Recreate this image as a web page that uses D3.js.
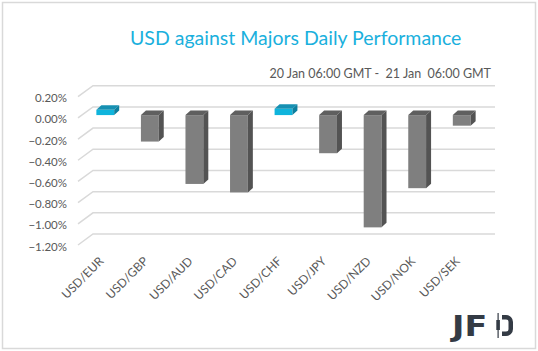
<!DOCTYPE html>
<html>
<head>
<meta charset="utf-8">
<script src="https://cdn.jsdelivr.net/npm/d3@7"></script>
<style>
  body { margin: 0; background: #fff; }
  svg { display: block; font-family: Lato, "Open Sans", sans-serif; }
</style>
</head>
<body>
<div id="chart"></div>
<script>
// data
const pairs = ['USD/EUR', 'USD/GBP', 'USD/AUD', 'USD/CAD', 'USD/CHF', 'USD/JPY', 'USD/NZD', 'USD/NOK', 'USD/SEK'];
const changes = [0.05, -0.25, -0.65, -0.73, 0.06, -0.36, -1.06, -0.69, -0.10];
const yTicks = [0.2, 0, -0.2, -0.4, -0.6, -0.8, -1.0, -1.2];

const width = 538, height = 351;

const svg = d3.select('#chart').append('svg')
  .attr('width', width)
  .attr('height', height);

// outer frame
svg.append('rect')
  .attr('x', 2.5).attr('y', 2.5)
  .attr('width', 533).attr('height', 346)
  .attr('fill', 'none')
  .attr('stroke', '#d9d9d9')
  .attr('stroke-width', 1.5);

svg.append('text')
  .attr('x', 130).attr('y', 45)
  .attr('font-size', 19.5)
  .attr('fill', '#1ab0dd')
  .text('USD against Majors Daily Performance');

svg.append('text')
  .attr('x', 491).attr('y', 78)
  .attr('text-anchor', 'end')
  .attr('font-size', 12.5)
  .attr('fill', '#595959')
  .style('white-space', 'pre')
  .text('20 Jan 06:00 GMT -  21 Jan  06:00 GMT');

// back wall scale, and the 3d offsets
const y = d3.scaleLinear().domain([-1.2, 0.2]).range([234, 85.7]);
const wallLeft = 93, wallRight = 495;
const floorDx = 15, floorDy = 11;
const barShift = 8.2;        // bars stand a little in front of the back wall
const depthX = 5, depthY = -4.5;

const x = d3.scaleBand()
  .domain(pairs)
  .range([83, 484])
  .paddingInner(0.6)
  .paddingOuter(0.3);

const grid = svg.append('g').attr('stroke', '#d9d9d9').attr('stroke-width', 1.5).attr('fill', 'none');
grid.selectAll('.grid')
  .data(yTicks)
  .enter().append('path')
  .attr('class', 'grid')
  .attr('d', d => `M${wallLeft - floorDx},${y(d) + floorDy}L${wallLeft},${y(d)}L${wallRight},${y(d)}`);

svg.append('g').selectAll('text')
  .data(yTicks)
  .enter().append('text')
  .attr('x', 67)
  .attr('y', d => y(d) + 12.5)
  .attr('dy', '0.35em')
  .attr('text-anchor', 'end')
  .attr('font-size', 11.5)
  .attr('fill', '#595959')
  .text(d => d3.format('.2f')(d * 1 === 0 ? 0 : d) + '%');

const yb = v => y(v) + barShift;
const bars = svg.append('g').selectAll('g')
  .data(pairs.map((p, i) => ({ pair: p, value: changes[i] })))
  .enter().append('g');

const face = d => d.value >= 0
  ? { front: '#0fb4dc', top: '#1690b2', side: '#0c7f9e' }
  : { front: '#7f7f7f', top: '#5f5f5f', side: '#535353' };

bars.each(function(d) {
  const g = d3.select(this);
  const x0 = x(d.pair), x1 = x0 + x.bandwidth();
  const top = Math.min(yb(d.value), yb(0));
  const bottom = Math.max(yb(d.value), yb(0));
  const c = face(d);
  g.append('rect')
    .attr('x', x0).attr('y', top)
    .attr('width', x1 - x0).attr('height', bottom - top)
    .attr('fill', c.front);
  g.append('path')
    .attr('d', `M${x0},${top}L${x0 + depthX},${top + depthY}L${x1 + depthX},${top + depthY}L${x1},${top}Z`)
    .attr('fill', c.top);
  g.append('path')
    .attr('d', `M${x1},${top}L${x1 + depthX},${top + depthY}L${x1 + depthX},${bottom + depthY}L${x1},${bottom}Z`)
    .attr('fill', c.side);
});

svg.append('g').selectAll('text')
  .data(pairs)
  .enter().append('text')
  .attr('transform', d => `translate(${x(d) + x.bandwidth() / 2 - 1},262) rotate(-45)`)
  .attr('text-anchor', 'end')
  .attr('font-size', 12)
  .attr('fill', '#595959')
  .text(d => d);

// JFD logo
const logo = svg.append('g').attr('fill', '#343b45');
logo.append('text')
  .attr('transform', 'translate(452,336) scale(1.15,1)')
  .attr('font-size', 29)
  .attr('font-weight', 'bold')
  .attr('font-family', '"DejaVu Sans", sans-serif')
  .text('JF');
logo.append('rect').attr('x', 497.5).attr('y', 313).attr('width', 1.2).attr('height', 25);
logo.append('rect').attr('x', 496.3).attr('y', 320).attr('width', 3.6).attr('height', 10);
logo.append('path')
  .attr('fill-rule', 'evenodd')
  .attr('d', 'M502,315 H506 A7,7 0 0 1 513,322 V329 A7,7 0 0 1 506,336 H502 Z ' +
             'M502,319.5 H506 A2.5,2.5 0 0 1 508.5,322 V329 A2.5,2.5 0 0 1 506,331.5 H502 Z');
</script>
</body>
</html>
